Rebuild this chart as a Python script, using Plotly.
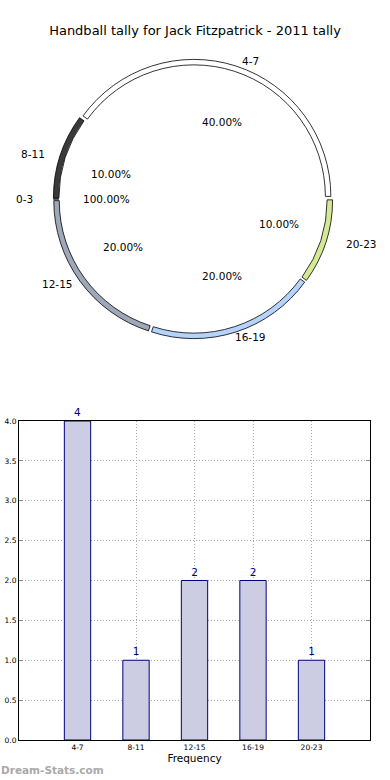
import math
import plotly.graph_objects as go

# ---- data ----
pie_labels = ["4-7", "8-11", "0-3", "12-15", "16-19", "20-23"]
pie_values = [4, 1, 0, 2, 2, 1]
pie_pct_text = ["40.00%", "10.00%", "100.00%", "20.00%", "20.00%", "10.00%"]
pie_colors = ["#ffffff", "#3a3a3a", "#888888", "#9ea8b8", "#b6d4fb", "#d3ea92"]

bar_cats = ["4-7", "8-11", "12-15", "16-19", "20-23"]
bar_vals = [4, 1, 2, 2, 1]

title_text = "Handball tally for Jack Fitzpatrick - 2011 tally"

# ---- geometry helpers ----
W, H = 390, 780
ML, MR, MT, MB = 19, 20, 0, 40
PW, PH = W - ML - MR, H - MT - MB


def px2paper(x, y):
    return (x - ML) / PW, (PH + MT - y) / PH


cx, cy = 193, 199  # pie centre in px
R = 137
pull = 0.02
Rd = R * (1 + pull)
x0, y0 = px2paper(cx - Rd, cy + Rd)
x1, y1 = px2paper(cx + Rd, cy - Rd)

fig = go.Figure()
# drawn clockwise from 3 o'clock in reversed order == counterclockwise from 3 o'clock
fig.add_trace(go.Pie(
    labels=pie_labels[::-1], values=pie_values[::-1], sort=False,
    direction="clockwise", rotation=90,
    hole=0.96, pull=[pull] * len(pie_values),
    marker=dict(colors=pie_colors[::-1], line=dict(color="#000000", width=0.8)),
    textinfo="none", showlegend=False, hoverinfo="label+value",
    domain=dict(x=[x0, x1], y=[y0, y1]),
))

# label positions derived from the pie values
total = sum(pie_values)
annots = []
cum = 0
tcx, tcy = 197, 199
for lab, v, pt in zip(pie_labels, pie_values, pie_pct_text):
    mid = (cum + v / 2) / total * 2 * math.pi
    cum += v
    lx, ly = px2paper(tcx + 1.1 * 157 * math.cos(mid), tcy - 1.1 * 132 * math.sin(mid))
    annots.append(dict(x=lx, y=ly, xref="paper", yref="paper", text=lab,
                       xanchor="center", yanchor="middle",
                       showarrow=False, font=dict(size=10.5, color="#000")))
    tx, ty = px2paper(tcx - 2 + 0.6 * 148 * math.cos(mid), tcy - 0.6 * 135 * math.sin(mid))
    annots.append(dict(x=tx, y=ty, xref="paper", yref="paper", text=pt,
                       xanchor="center", yanchor="middle",
                       showarrow=False, font=dict(size=10.5, color="#000")))

fig.add_trace(go.Bar(
    x=bar_cats, y=bar_vals, width=0.45,
    marker=dict(color="#cccce2", line=dict(color="#00007f", width=1)),
    text=[str(v) for v in bar_vals], textposition="outside",
    textfont=dict(size=10.5, color="#00007f"), cliponaxis=False,
    showlegend=False, xaxis="x", yaxis="y",
))

wx, wy = px2paper(-1, 770)
annots.append(dict(x=wx, y=wy, xref="paper", yref="paper", text="<b>Dream-Stats.com</b>",
                   showarrow=False, xanchor="left", yanchor="middle",
                   font=dict(size=10.5, color="#a9a9a9")))

bar_top = (PH + MT - 421) / PH
grid_dash = "1px,2px"
fig.update_layout(
    width=W, height=H,
    margin=dict(l=ML, r=MR, t=MT, b=MB),
    paper_bgcolor="white", plot_bgcolor="white",
    font=dict(family="DejaVu Sans", color="#000"),
    title=dict(text=title_text, x=0.5, xref="container", y=1 - 30 / H, yref="container",
               xanchor="center", yanchor="middle", font=dict(size=13, color="#000")),
    xaxis=dict(domain=[0, 1], range=[-1, 5], type="category", automargin=False,
               showgrid=True, griddash=grid_dash, gridcolor="#a8a8a8", gridwidth=1,
               showline=True, mirror=True, linecolor="#000", linewidth=1,
               ticks="", tickfont=dict(size=7.5),
               title=dict(text="Frequency", font=dict(size=10.5), standoff=2)),
    yaxis=dict(domain=[0, bar_top], range=[0, 4], dtick=0.5, tickformat=".1f",
               automargin=False,
               showgrid=True, griddash=grid_dash, gridcolor="#a8a8a8", gridwidth=1,
               showline=True, mirror="ticks", linecolor="#000", linewidth=1,
               ticks="inside", ticklen=4, tickcolor="#888", tickfont=dict(size=7.5),
               zeroline=False),
    annotations=annots,
)

fig.write_html("out.html", config={"displayModeBar": False},
               post_script="document.body.style.margin='0';")
